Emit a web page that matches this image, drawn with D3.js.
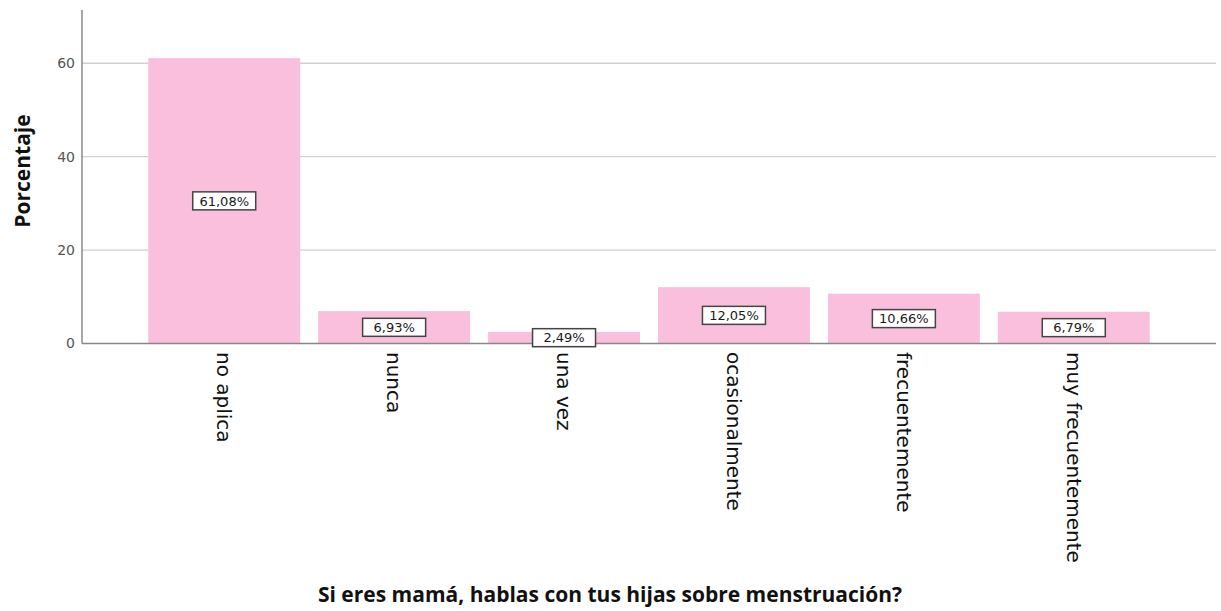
<html>
<script src='https://d3js.org/d3.v7.min.js'></script>
<style>
body {margin: 0; background: white;}
text {font-family: 'DejaVu Sans', sans-serif;}
</style>
<body>
<svg width=1221 height=611></svg>
<script>
var categories = ['no aplica', 'nunca', 'una vez', 'ocasionalmente', 'frecuentemente', 'muy frecuentemente'];
var values = [61.08, 6.93, 2.49, 12.05, 10.66, 6.79];
var yTicks = [0, 20, 40, 60];

var svg = d3.select('svg');
var mLeft = 82, mRight = 1216, mTop = 10, mBottom = 343.5;

var x = d3.scaleBand(categories, [mLeft, mRight]).paddingInner(0.106).paddingOuter(0.39);
var y = d3.scaleLinear([0, 71.4], [mBottom, mTop]);

// gridlines
svg.append('g')
  .selectAll('line')
  .data(yTicks.slice(1))
  .enter()
  .append('line')
   .attr('x1', mLeft).attr('x2', mRight)
   .attr('y1', function(d) {return y(d);})
   .attr('y2', function(d) {return y(d);})
   .attr('stroke', '#d2d2d2').attr('stroke-width', 1.3);

// bars
svg.append('g')
  .selectAll('rect')
  .data(values)
  .enter()
  .append('rect')
   .attr('x', function(d, i) {return x(categories[i]);})
   .attr('y', function(d) {return y(d);})
   .attr('width', x.bandwidth())
   .attr('height', function(d) {return y(0) - y(d);})
   .attr('fill', '#f9bfdc');

// y axis
svg.append('g')
  .attr('transform', 'translate(' + mLeft + ',0)')
  .call(d3.axisLeft(y).tickValues(yTicks).tickSize(0).tickPadding(7))
  .call(function(g) {
    g.select('.domain').attr('d', 'M0,' + mTop + 'V' + mBottom).attr('stroke', '#888').attr('stroke-width', 1.5);
    g.selectAll('.tick text').attr('font-size', 14).attr('fill', '#555')
      .style('font-family', "'DejaVu Sans', sans-serif");
  });

// x axis
svg.append('g')
  .attr('transform', 'translate(0,' + mBottom + ')')
  .call(d3.axisBottom(x).tickSize(0).tickPadding(0))
  .call(function(g) {
    g.select('.domain').attr('d', 'M' + mLeft + ',0H' + mRight).attr('stroke', '#888').attr('stroke-width', 1.5);
    g.selectAll('.tick text')
      .attr('transform', 'rotate(90)')
      .attr('x', 8.5).attr('y', 0).attr('dy', '0.35em')
      .attr('text-anchor', 'start')
      .attr('font-size', 20).attr('fill', '#111')
      .style('font-family', "'DejaVu Sans', sans-serif");
  });

// value labels
var labels = svg.append('g')
  .selectAll('g')
  .data(values)
  .enter()
  .append('g')
   .attr('transform', function(d, i) {
     return 'translate(' + (x(categories[i]) + x.bandwidth() / 2) + ',' + y(d / 2) + ')';
   });

labels.append('rect')
  .attr('x', -31.5).attr('y', -9).attr('width', 63).attr('height', 18)
  .attr('fill', 'white').attr('stroke', '#444').attr('stroke-width', 1.5);

labels.append('text')
  .attr('text-anchor', 'middle').attr('dy', '0.36em')
  .attr('font-size', 13).attr('fill', '#1a1a1a')
  .text(function(d) {return d.toFixed(2).replace('.', ',') + '%';});

// axis titles
svg.append('text')
  .attr('x', 610).attr('y', 602)
  .attr('text-anchor', 'middle')
  .attr('font-size', 21).attr('font-weight', 'bold').attr('fill', '#111')
  .style('font-family', "'Open Sans', sans-serif")
  .text('Si eres mamá, hablas con tus hijas sobre menstruación?');

svg.append('text')
  .attr('transform', 'translate(30,171) rotate(-90)')
  .attr('text-anchor', 'middle')
  .attr('font-size', 21).attr('font-weight', 'bold').attr('fill', '#111')
  .style('font-family', "'Open Sans', sans-serif")
  .text('Porcentaje');
</script>
</body>
</html>
